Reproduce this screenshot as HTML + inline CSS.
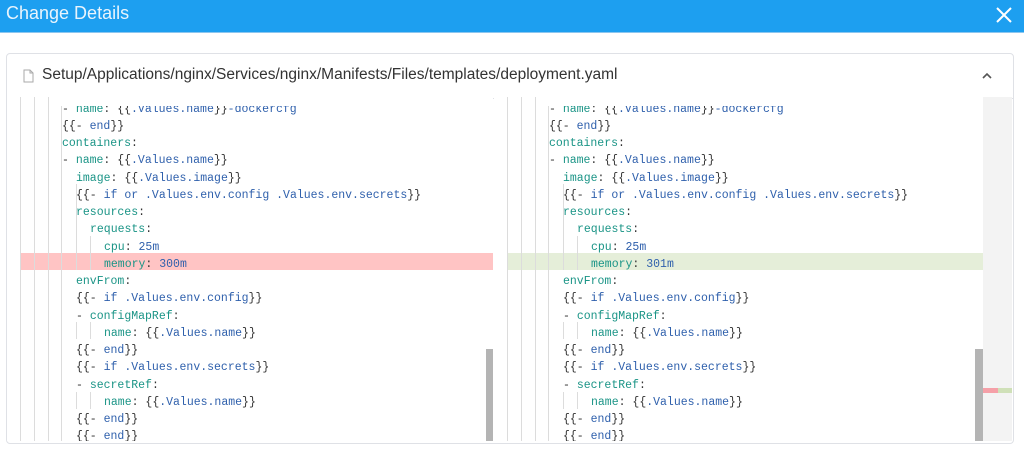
<!DOCTYPE html>
<html><head><meta charset="utf-8"><style>
body{margin:0;width:1024px;height:462px;background:#fff;position:relative;overflow:hidden;font-family:"Liberation Sans",sans-serif}
.hdr{position:absolute;left:0;top:0;width:1024px;height:32px;background:#1d9ff0;border-bottom:1px solid #8cc6ef}
.hdr .t{position:absolute;left:6px;top:3px;color:#e8f4fd;font-size:18px}
.card{position:absolute;left:6px;top:53px;width:1006px;height:389px;border:1px solid #dfe1e6;border-radius:4px;overflow:hidden}
.fh{position:absolute;left:0;top:0;width:1006px;height:44px;border-bottom:1px solid #dfe1e6}
.fh .p{position:absolute;left:35px;top:12px;font-size:15.5px;color:#333}
.code{position:absolute;top:97px;height:344px;overflow:hidden;background:#fff}
.ln{position:absolute;font-family:"Liberation Mono",monospace;font-size:11.5px;white-space:pre;height:17px;line-height:17px}
.k{color:#1a9486}.v{color:#2f60ac}.d{color:#333}
.g{position:absolute;width:1px;background:#dcdcdc}
</style></head><body>
<div class="hdr"><div class="t">Change Details</div>
<svg style="position:absolute;left:996px;top:7px" width="16" height="16"><path d="M1 1L15 15M15 1L1 15" stroke="#fff" stroke-width="2"/></svg></div>
<div class="card">
<div class="fh">
<svg style="position:absolute;left:16px;top:15px" width="11" height="14"><path d="M1 1H7L10 4V13H1Z M7 1V4H10" fill="none" stroke="#aaa" stroke-width="1"/></svg>
<div class="p">Setup/Applications/nginx/Services/nginx/Manifests/Files/templates/deployment.yaml</div>
<svg style="position:absolute;left:975px;top:18px" width="10" height="8"><path d="M1 6L5 2L9 6" fill="none" stroke="#555" stroke-width="1.6"/></svg>
</div>
</div>
<div id="L" class="code" style="left:7px;width:486px"></div>
<div id="R" class="code" style="left:494px;width:489px"></div>
<div style="position:absolute;left:983px;top:97px;width:29px;height:344px;background:#f3f3f3"></div>
<div style="position:absolute;left:983px;top:388px;width:15px;height:5px;background:#f5a0a8"></div>
<div style="position:absolute;left:998px;top:388px;width:14px;height:5px;background:#cfe0b8"></div>
<script>
const lines=[
[62,'<span class="d">- </span><span class="k">name</span><span class="d">: {{</span><span class="v">.Values.name</span><span class="d">}}</span><span class="v">-dockercfg</span>'],
[62,'<span class="d">{{- </span><span class="v">end</span><span class="d">}}</span>'],
[62,'<span class="k">containers</span><span class="d">:</span>'],
[62,'<span class="d">- </span><span class="k">name</span><span class="d">: {{</span><span class="v">.Values.name</span><span class="d">}}</span>'],
[76,'<span class="k">image</span><span class="d">: {{</span><span class="v">.Values.image</span><span class="d">}}</span>'],
[76,'<span class="d">{{- </span><span class="v">if or .Values.env.config .Values.env.secrets</span><span class="d">}}</span>'],
[76,'<span class="k">resources</span><span class="d">:</span>'],
[90,'<span class="k">requests</span><span class="d">:</span>'],
[104,'<span class="k">cpu</span><span class="d">: </span><span class="v">25m</span>'],
[104,'<span class="k">memory</span><span class="d">: </span><span class="v">XXX</span>'],
[76,'<span class="k">envFrom</span><span class="d">:</span>'],
[76,'<span class="d">{{- </span><span class="v">if .Values.env.config</span><span class="d">}}</span>'],
[76,'<span class="d">- </span><span class="k">configMapRef</span><span class="d">:</span>'],
[104,'<span class="k">name</span><span class="d">: {{</span><span class="v">.Values.name</span><span class="d">}}</span>'],
[76,'<span class="d">{{- </span><span class="v">end</span><span class="d">}}</span>'],
[76,'<span class="d">{{- </span><span class="v">if .Values.env.secrets</span><span class="d">}}</span>'],
[76,'<span class="d">- </span><span class="k">secretRef</span><span class="d">:</span>'],
[104,'<span class="k">name</span><span class="d">: {{</span><span class="v">.Values.name</span><span class="d">}}</span>'],
[76,'<span class="d">{{- </span><span class="v">end</span><span class="d">}}</span>'],
[76,'<span class="d">{{- </span><span class="v">end</span><span class="d">}}</span>']];
function build(id,left,off,mem,bg){
 const el=document.getElementById(id);let h='';
 const bx=20+off-left;
 h+=`<div style="position:absolute;left:${bx}px;top:${253-97}px;width:${489-bx}px;height:17px;background:${bg}"></div>`;
 [20,34,48,61].forEach(x=>{h+=`<div class="g" style="left:${x+off-left}px;top:0;height:344px"></div>`});
 h+=`<div class="g" style="left:${76+off-left}px;top:${184-97}px;height:${270-184}px"></div>`;
 h+=`<div class="g" style="left:${90+off-left}px;top:${236-97}px;height:${34}px"></div>`;
 [[322],[392]].forEach(([y])=>{h+=`<div class="g" style="left:${76+off-left}px;top:${y-97}px;height:17px"></div><div class="g" style="left:${90+off-left}px;top:${y-97}px;height:17px"></div>`});
 lines.forEach((l,i)=>{const y=-1.5+5+i*17.26;h+=`<div class="ln" style="left:${l[0]+off-left}px;top:${y}px">${l[1].replace('XXX',mem)}</div>`});
 h+=`<div style="position:absolute;left:${54+off-left}px;top:0;width:300px;height:9px;background:#fff"></div>`;
 const sbx=(id=='L'?486:975)-left;
 h+=`<div style="position:absolute;left:${sbx}px;top:252px;width:8px;height:92px;background:#b4b4b4"></div>`;
 el.innerHTML=h;
}
build('L',7,0,'300m','#ffc4c4');
build('R',494,487,'301m','#e5eed9');
</script>
</body></html>
